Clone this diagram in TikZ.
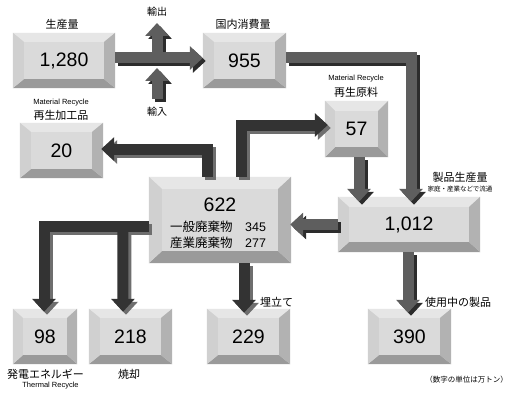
\documentclass[tikz,border=0pt]{standalone}
\usepackage{fontspec}
\setmainfont{Liberation Sans}
\newfontfamily\jp{Noto Sans CJK JP}
\usetikzlibrary{arrows.meta,calc}
\definecolor{ctop}{HTML}{E6E6E6}
\definecolor{cleft}{HTML}{D0D0D0}
\definecolor{cmid}{HTML}{DADADA}
\definecolor{cright}{HTML}{B2B2B2}
\definecolor{cbot}{HTML}{9A9A9A}
\definecolor{amed}{HTML}{5E5E5E}
\definecolor{adark}{HTML}{333333}
\definecolor{smed}{HTML}{2C2C2C}
\definecolor{sdark}{HTML}{6E6E6E}
\tikzset{
 bx/.style={fill=cmid, inner sep=0pt, font=\fontsize{19.5}{20}\selectfont},
 lab/.style={inner sep=0pt, font=\jp\fontsize{11}{12}\selectfont},
 tinytxt/.style={inner sep=0pt, font=\fontsize{7.5}{8}\selectfont},
 flowbase/.style={line width=11pt, line join=miter, -{Triangle[width=23pt,length=13pt]}},
 fM/.style={flowbase, draw=amed},
 fD/.style={flowbase, draw=adark},
 sM/.style={flowbase, draw=smed, transform canvas={shift={(3pt,-3pt)}}},
 sD/.style={flowbase, draw=sdark, transform canvas={shift={(3pt,-3pt)}}},
}
\newcommand\bevel[3]{%
 \fill[ctop] (#1.north west) -- (#1.north east) -- ($(#1.north east)+(-#2,#3)$) -- ($(#1.north west)+(#2,#3)$) -- cycle;
 \fill[cbot] (#1.south west) -- (#1.south east) -- ($(#1.south east)+(-#2,-#3)$) -- ($(#1.south west)+(#2,-#3)$) -- cycle;
 \fill[cleft] (#1.north west) -- ($(#1.north west)+(#2,#3)$) -- ($(#1.south west)+(#2,-#3)$) -- (#1.south west) -- cycle;
 \fill[cright] (#1.north east) -- ($(#1.north east)+(-#2,#3)$) -- ($(#1.south east)+(-#2,-#3)$) -- (#1.south east) -- cycle;
}
\newcommand\allflows[2]{%
 \draw[#1] ($(prod.east)+(0,-2.5)$) -- ($(dom.west)+(0,-2.5)$);
 \draw[#1] (jx) -- (exend);
 \draw[#1] (imstart) -- (imend);
 \draw[#1] ($(dom.east)+(0,-2.5)$) -| ($(prodq.north)+(2,5)$);
 \draw[#1] ($(mat.south)+(2.5,0)$) -- ($(mat.south |- prodq.north)+(2.5,5)$);
 \draw[#1] (prodq.west) -- ($(waste.east |- prodq.west)+(-1,0)$);
 \draw[#1] ($(prodq.south)+(-1,0)$) -- ($(use.north)+(-1.5,4)$);
 \draw[#2] ($(waste.north)+(21,0)$) |- ($(mat.west)+(3,-4)$);
 \draw[#2] ($(waste.north)+(-12.5,0)$) |- ($(proc.east)+(-2,-1.5)$);
 \draw[#2] ($(waste.west)+(0,6)$) -| ($(e98.north)+(-1,3)$);
 \draw[#2] (jn) -- ($(inc.north)+(-7.5,3)$);
 \draw[#2] ($(waste.south)+(24,0)$) -- ($(land.north)+(-4.5,4)$);
}
\begin{document}
\begin{tikzpicture}[x=1pt,y=-1pt]
\useasboundingbox (0,0) rectangle (509,396);
\fill[white] (0,0) rectangle (509,396);
% boxes
\node[bx, minimum width=102pt, minimum height=55pt] (prod) at (64,60.5) {1,280};
\node[bx, minimum width=83pt, minimum height=55pt] (dom) at (244.5,60.5) {955};
\node[bx, minimum width=83pt, minimum height=55pt] (proc) at (61.5,150.5) {20};
\node[bx, minimum width=63pt, minimum height=56pt] (mat) at (356.5,129) {57};
\node[bx, minimum width=142pt, minimum height=55pt] (prodq) at (409,224.5) {1,012};
\node[bx, minimum width=142pt, minimum height=86pt] (waste) at (220,220) {};
\node[bx, minimum width=64pt, minimum height=55pt] (e98) at (45,336.5) {98};
\node[bx, minimum width=83pt, minimum height=55pt] (inc) at (130.5,336.5) {218};
\node[bx, minimum width=83pt, minimum height=55pt] (land) at (248.5,336.5) {229};
\node[bx, minimum width=83pt, minimum height=55pt] (use) at (409.5,336.5) {390};
\bevel{prod}{11}{9}
\bevel{dom}{11}{9}
\bevel{proc}{11}{9}
\bevel{mat}{10}{10}
\bevel{prodq}{11}{10}
\bevel{waste}{13}{12}
\bevel{e98}{10}{9}
\bevel{inc}{11}{9}
\bevel{land}{11}{9}
\bevel{use}{11}{9}
% text of 622 box
\node[inner sep=0pt, font=\fontsize{19.5}{20}\selectfont] (wn) at (220,205) {622};
\node[inner sep=0pt, anchor=west, font=\jp\fontsize{12.5}{13}\selectfont] (w1) at (170,227) {一般廃棄物};
\node[inner sep=0pt, anchor=west, font=\fontsize{12.5}{13}\selectfont] (w1n) at (245,227) {345};
\node[inner sep=0pt, anchor=west, font=\jp\fontsize{12.5}{13}\selectfont] (w2) at (170,243) {産業廃棄物};
\node[inner sep=0pt, anchor=west, font=\fontsize{12.5}{13}\selectfont] (w2n) at (245,243) {277};
% helper coordinates
\coordinate (jx) at (157,58);
\coordinate (exend) at (157,23);
\coordinate (imstart) at (157,99);
\coordinate (imend) at (157,68);
\coordinate (jn) at ($(waste.west)+(-26,6)$);
% flows
\allflows{sM}{sD}
\allflows{fM}{fD}
% labels
\node[lab] (lprod) at (62,24) {生産量};
\node[lab] (ldom) at (243,24) {国内消費量};
\node[lab, font=\jp\fontsize{10}{11}\selectfont] (lex) at (157,12) {輸出};
\node[lab, font=\jp\fontsize{10}{11}\selectfont] (lim) at (157,112) {輸入};
\node[tinytxt] (lmr1) at (356,79) {Material Recycle};
\node[lab] (lmat) at (356,92) {再生原料};
\node[tinytxt] (lmr2) at (61,103) {Material Recycle};
\node[lab] (lproc) at (61,115) {再生加工品};
\node[lab] (lprodq) at (460,177) {製品生産量};
\node[lab, font=\jp\fontsize{6.5}{7}\selectfont] (lprodq2) at (460,189) {家庭・産業などで流通};
\node[lab, anchor=west] (lland) at (260,302) {埋立て};
\node[lab, anchor=west] (luse) at (425,302) {使用中の製品};
\node[lab] (le98) at (45.5,374) {発電エネルギー};
\node[tinytxt] (lthr) at (50.5,386) {Thermal Recycle};
\node[lab] (linc) at (129,374) {焼却};
\node[lab, anchor=east, font=\jp\fontsize{7.5}{8}\selectfont] (lunit) at (508,380) {（数字の単位は万トン）};
\end{tikzpicture}
\end{document}
